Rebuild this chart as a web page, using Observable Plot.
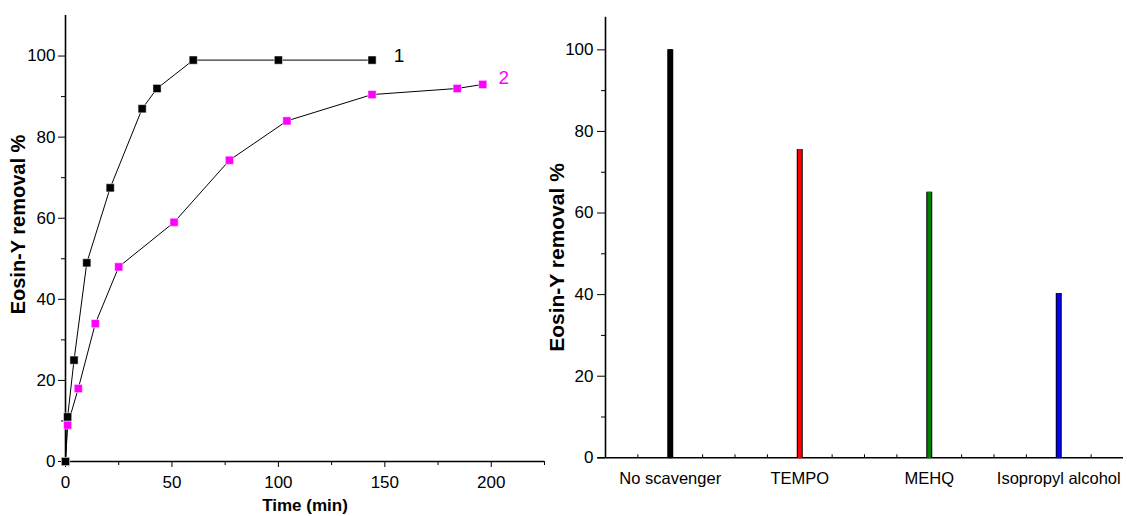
<!DOCTYPE html>
<html><head><meta charset="utf-8">
<script src="https://cdn.jsdelivr.net/npm/d3@7"></script>
<script src="https://cdn.jsdelivr.net/npm/@observablehq/plot@0.6"></script>
<style>
html,body{margin:0;padding:0;background:#fff}
body{width:1127px;height:516px;position:relative;overflow:hidden;font-family:"Liberation Sans",Arial,sans-serif}
#left{position:absolute;left:0;top:0}
#right{position:absolute;left:550px;top:0}
svg{overflow:visible}
</style></head><body>
<div id="left"></div><div id="right"></div>
<script>
// ---- Left panel data: Eosin-Y removal vs time ----
const time1 = [0, 1, 4, 10, 21, 36, 43, 60, 100, 144];
const removal1 = [0, 11, 25, 49, 67.5, 87, 92, 99, 99, 99];
const time2 = [0, 1, 6, 14, 25, 51, 77, 104, 144, 184, 196];
const removal2 = [0, 9, 18, 34, 48, 59, 74.3, 84, 90.5, 92, 93];
const seriesLabels = ["1", "2"];
const seriesColors = ["#000000", "#ff00ff"];
const timeTicks = [0, 50, 100, 150, 200];
const timeMinorTicks = [25, 75, 125, 175, 225];
const removalTicks = [0, 20, 40, 60, 80, 100];
const removalMinorTicks = [10, 30, 50, 70, 90];

// ---- Right panel data: scavenger test ----
const scavengers = ["No scavenger", "TEMPO", "MEHQ", "Isopropyl alcohol"];
const scavengerRemoval = [100, 75.6, 65.1, 40.3];
const barColors = ["#000000", "#ff0000", "#008000", "#0000ff"];
const scavengerMinorTicks = [0.75, 1.25, 1.5, 1.75, 2.25, 2.5, 2.75, 3.25, 3.5, 3.75, 4.25];

const yLabel = "Eosin-Y removal %";
const xLabel = "Time (min)";
const FONT = "Liberation Sans, Arial, sans-serif";

const s1 = time1.map((t, i) => ({t, r: removal1[i]}));
const s2 = time2.map((t, i) => ({t, r: removal2[i]}));
const last1 = s1[s1.length - 1];
const last2 = s2[s2.length - 1];

const xDomL = [0, 225], yDomL = [0, 110];
const left = Plot.plot({
  width: 560, height: 516,
  marginLeft: 65, marginRight: 16, marginTop: 15, marginBottom: 55,
  style: {fontFamily: FONT, color: "#000", background: "transparent", overflow: "visible"},
  x: {domain: xDomL, label: null},
  y: {domain: yDomL, label: null},
  marks: [
    Plot.ruleX([xDomL[0]], {y1: yDomL[0], y2: yDomL[1], stroke: "#000", strokeWidth: 1.6}),
    Plot.ruleY([yDomL[0]], {x1: xDomL[0], x2: xDomL[1], stroke: "#000", strokeWidth: 1.6}),
    Plot.axisX(timeTicks, {tickSize: 6, tickPadding: 8, fontSize: 17, label: null}),
    Plot.axisX(timeMinorTicks, {tickSize: 4, tickFormat: () => "", label: null}),
    Plot.axisY(removalTicks, {tickSize: 7, tickPadding: 3, fontSize: 17, label: null}),
    Plot.axisY(removalMinorTicks, {tickSize: 4, tickFormat: () => "", label: null}),
    Plot.line(s2, {x: "t", y: "r", stroke: "#000", strokeWidth: 1}),
    Plot.line(s1, {x: "t", y: "r", stroke: "#000", strokeWidth: 1}),
    Plot.dot(s2, {x: "t", y: "r", symbol: "square", r: 4.6, fill: seriesColors[1], stroke: "#fff", strokeWidth: 0.5}),
    Plot.dot(s1, {x: "t", y: "r", symbol: "square", r: 4.6, fill: seriesColors[0], stroke: "#fff", strokeWidth: 0.5}),
    Plot.text([last1], {x: "t", y: "r", text: () => seriesLabels[0], fill: seriesColors[0], fontSize: 19, dx: 27, dy: -4, fontFamily: FONT}),
    Plot.text([last2], {x: "t", y: "r", text: () => seriesLabels[1], fill: seriesColors[1], fontSize: 19, dx: 21, dy: -7, fontFamily: FONT}),
    Plot.text([yLabel], {frameAnchor: "left", textAnchor: "middle", lineAnchor: "middle", rotate: -90, dx: -47, dy: -14, fontSize: 20, fontWeight: "bold", fontFamily: FONT, fill: "#000"}),
    Plot.text([xLabel], {frameAnchor: "bottom", dy: 49, fontSize: 17, fontWeight: "bold", fontFamily: FONT, fill: "#000"})
  ]
});
document.getElementById("left").append(left);

const bars = scavengers.map((name, i) => ({i: i + 1, name, v: scavengerRemoval[i], color: barColors[i]}));
const xDomR = [0.5, 4.5], yDomR = [0, 108];
const right = Plot.plot({
  width: 577, height: 516,
  marginLeft: 55, marginRight: 4, marginTop: 16.7, marginBottom: 58.7,
  style: {fontFamily: FONT, color: "#000", background: "transparent", overflow: "visible"},
  x: {domain: xDomR, label: null},
  y: {domain: yDomR, label: null},
  color: {type: "identity"},
  marks: [
    Plot.ruleX([xDomR[0]], {y1: yDomR[0], y2: yDomR[1], stroke: "#000", strokeWidth: 1.6}),
    Plot.ruleY([yDomR[0]], {x1: xDomR[0] - 0.06, x2: xDomR[1], stroke: "#000", strokeWidth: 1.6}),
    Plot.axisX(scavengerMinorTicks, {tickSize: -3, tickFormat: () => "", label: null}),
    Plot.axisX(bars.map(d => d.i), {tickSize: 0, tickPadding: 14, fontSize: 16.5, tickFormat: i => scavengers[i - 1], label: null}),
    Plot.axisY(removalTicks, {tickSize: 8, tickPadding: 4, fontSize: 17, label: null}),
    Plot.axisY(removalMinorTicks, {tickSize: 4, tickFormat: () => "", label: null}),
    Plot.ruleX(bars, {x: "i", y1: 0, y2: "v", stroke: "#000", strokeWidth: 6}),
    Plot.ruleX(bars, {x: "i", y1: 0, y2: "v", stroke: "color", strokeWidth: 4, insetTop: 1}),
    Plot.text([yLabel], {frameAnchor: "left", textAnchor: "middle", lineAnchor: "middle", rotate: -90, dx: -48, dy: 20, fontSize: 21, fontWeight: "bold", fontFamily: FONT, fill: "#000"})
  ]
});
document.getElementById("right").append(right);
</script>
</body></html>
